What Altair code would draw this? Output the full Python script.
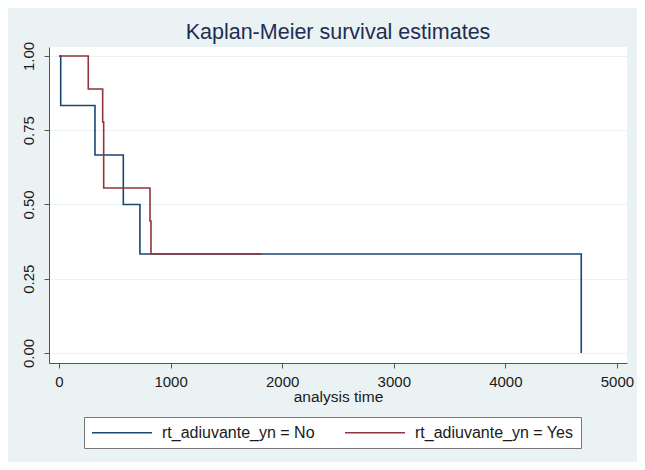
import altair as alt
import pandas as pd

# Kaplan-Meier step data
no_time = [0, 15, 322, 576, 725, 4680]
no_surv = [1.0, 0.8333, 0.6667, 0.5, 0.3333, 0.0]
yes_time = [0, 262, 391, 400, 815, 824, 1815]
yes_surv = [1.0, 0.8889, 0.7778, 0.5556, 0.4444, 0.3333, 0.3333]

series_names = ["rt_adiuvante_yn = No", "rt_adiuvante_yn = Yes"]
series_colors = ["#1a476f", "#90353b"]
x_ticks = [0, 1000, 2000, 3000, 4000, 5000]
y_ticks = [0.0, 0.25, 0.5, 0.75, 1.0]

rows = []
for i, (t, s) in enumerate(zip(no_time, no_surv)):
    rows.append({"time": t, "surv": s, "group": series_names[0], "order": i})
for i, (t, s) in enumerate(zip(yes_time, yes_surv)):
    rows.append({"time": t, "surv": s, "group": series_names[1], "order": i})
df = pd.DataFrame(rows)

FONT = "Liberation Sans"

chart = (
    alt.Chart(df)
    .mark_line(interpolate="step-after", strokeWidth=1.6, clip=True)
    .encode(
        x=alt.X(
            "time:Q",
            scale=alt.Scale(domain=[-90, 5090], nice=False, zero=False),
            axis=alt.Axis(
                values=x_ticks,
                title="analysis time",
                grid=False,
                labelFontSize=15,
                titleFontSize=15.5,
                titleFontWeight="normal",
                labelPadding=6,
                titlePadding=0,
                format="d",
            ),
        ),
        y=alt.Y(
            "surv:Q",
            scale=alt.Scale(domain=[-0.0337, 1.0303], nice=False, zero=False),
            axis=alt.Axis(
                values=y_ticks,
                format=".2f",
                title=None,
                grid=True,
                gridColor="#eaf2f3",
                gridWidth=1.2,
                labelAngle=270,
                labelAlign="center",
                labelBaseline="bottom",
                labelFontSize=15,
                labelPadding=8,
            ),
        ),
        color=alt.Color(
            "group:N",
            scale=alt.Scale(domain=series_names, range=series_colors),
            legend=alt.Legend(
                title=None,
                orient="none",
                legendX=35,
                legendY=370,
                direction="horizontal",
                symbolType="M-1,0H7",
                symbolSize=225,
                symbolStrokeWidth=1.6,
                labelFontSize=16,
                labelOffset=54,
                columnPadding=26,
                padding=7,
                fillColor="white",
                strokeColor="#777777",
                labelColor="#1a1a1a",
                labelFont=FONT,
            ),
        ),
        order="order:Q",
    )
    .properties(
        width=578,
        height=316,
        title=alt.TitleParams(
            "Kaplan-Meier survival estimates",
            fontSize=21.5,
            fontWeight="normal",
            color="#1f2d55",
            font=FONT,
            anchor="middle",
            offset=-2,
        ),
        autosize=alt.AutoSizeParams(type="none"),
        padding={"left": 41, "top": 39, "right": 10, "bottom": 99},
    )
    .configure(background="#eaf2f3", font=FONT)
    .configure_view(fill="white", stroke=None)
    .configure_axis(
        domainColor="#555555",
        tickColor="#555555",
        tickSize=5,
        labelColor="#1a1a1a",
        titleColor="#1a1a1a",
        labelFont=FONT,
        titleFont=FONT,
    )
)

chart.save("out.html", embed_options={"renderer": "svg", "actions": False})
